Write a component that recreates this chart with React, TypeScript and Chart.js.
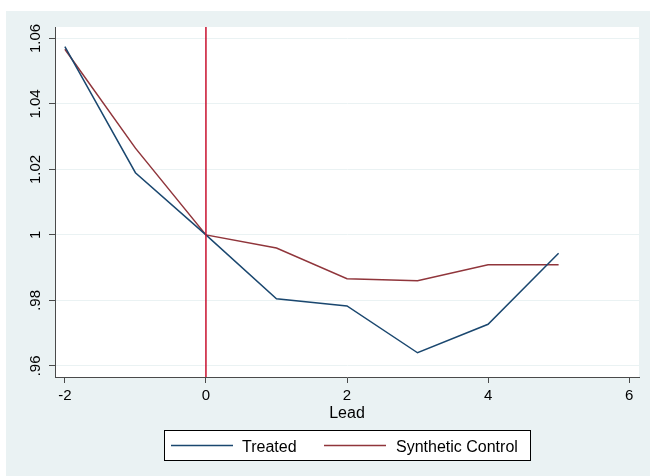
import React, { useEffect, useRef } from "react";
import { Chart, registerables } from "chart.js";

Chart.register(...registerables);

const leads = [-2, -1, 0, 1, 2, 3, 4, 5];
const treated = [1.0575, 1.019, 1.0, 0.9805, 0.9783, 0.964, 0.9727, 0.9944];
const synthetic = [1.0567, 1.0265, 1.0, 0.996, 0.9866, 0.986, 0.9909, 0.9909];
const xTicks = [-2, 0, 2, 4, 6];
const yTicks = [0.96, 0.98, 1.0, 1.02, 1.04, 1.06];
const yTickLabels = [".96", ".98", "1", "1.02", "1.04", "1.06"];
const xLineAt = 0;
const legendLabels = ["Treated", "Synthetic Control"];
const xTitle = "Lead";

const X_MIN = -2.14;
const X_MAX = 6.14;
const Y_MIN = 0.9566;
const Y_MAX = 1.0635;

const C_TREATED = "#1a476f";
const C_SYNTH = "#90353b";
const C_XLINE = "#c8102e";
const BG = "#eaf2f3";
const AXIS = "#4a4a4a";
const FONT = "'Liberation Sans', Arial, sans-serif";

export default function App() {
  const ref = useRef<HTMLCanvasElement | null>(null);

  useEffect(() => {
    const canvas = ref.current;
    if (!canvas) return;

    const bgPlugin = {
      id: "bgPlugin",
      beforeDraw(chart: any) {
        const { ctx, chartArea } = chart;
        ctx.save();
        ctx.fillStyle = "#ffffff";
        ctx.fillRect(0, 0, chart.width, chart.height);
        ctx.fillStyle = BG;
        ctx.fillRect(6, 11, chart.width - 6, chart.height - 11);
        ctx.fillStyle = "#ffffff";
        ctx.fillRect(
          chartArea.left,
          chartArea.top,
          chartArea.right - chartArea.left,
          chartArea.bottom - chartArea.top
        );
        ctx.restore();
      },
      afterDraw(chart: any) {
        const { ctx, chartArea } = chart;
        ctx.save();
        // x title
        ctx.fillStyle = "#000";
        ctx.font = `16px ${FONT}`;
        ctx.textAlign = "center";
        ctx.textBaseline = "alphabetic";
        ctx.fillText(xTitle, (chartArea.left + chartArea.right) / 2, 418);

        // legend box
        const bx = 164.5, by = 430.5, bw = 366, bh = 30;
        ctx.fillStyle = "#ffffff";
        ctx.fillRect(bx, by, bw, bh);
        ctx.strokeStyle = "#000";
        ctx.lineWidth = 1;
        ctx.strokeRect(bx, by, bw, bh);

        const items = [
          { x1: 171, x2: 233, tx: 242, color: C_TREATED, label: legendLabels[0] },
          { x1: 324, x2: 386, tx: 396, color: C_SYNTH, label: legendLabels[1] },
        ];
        ctx.textAlign = "left";
        ctx.font = `16px ${FONT}`;
        for (const it of items) {
          ctx.strokeStyle = it.color;
          ctx.lineWidth = 1.5;
          ctx.beginPath();
          ctx.moveTo(it.x1, 445.5);
          ctx.lineTo(it.x2, 445.5);
          ctx.stroke();
          ctx.fillStyle = "#000";
          ctx.fillText(it.label, it.tx, 452);
        }
        ctx.restore();
      },
    };

    const chart = new Chart(canvas, {
      type: "line",
      data: {
        datasets: [
          {
            label: "xline",
            data: [
              { x: xLineAt, y: Y_MIN },
              { x: xLineAt, y: Y_MAX },
            ],
            borderColor: C_XLINE,
            borderWidth: 1.5,
            pointRadius: 0,
            tension: 0,
          },
          {
            label: legendLabels[0],
            data: leads.map((x, i) => ({ x, y: treated[i] })),
            borderColor: C_TREATED,
            borderWidth: 1.5,
            pointRadius: 0,
            tension: 0,
          },
          {
            label: legendLabels[1],
            data: leads.map((x, i) => ({ x, y: synthetic[i] })),
            borderColor: C_SYNTH,
            borderWidth: 1.5,
            pointRadius: 0,
            tension: 0,
          },
        ],
      },
      options: {
        responsive: false,
        animation: false,
        devicePixelRatio: 1,
        layout: { padding: { left: 0, right: 11, top: 27, bottom: 0 } },
        plugins: {
          legend: { display: false },
          tooltip: { enabled: false },
        },
        scales: {
          x: {
            type: "linear",
            min: X_MIN,
            max: X_MAX,
            afterBuildTicks: (scale: any) => {
              scale.ticks = xTicks.map((v) => ({ value: v }));
            },
            afterFit: (scale: any) => {
              scale.height = 99;
            },
            grid: {
              drawOnChartArea: false,
              drawTicks: true,
              tickLength: 6,
              tickColor: AXIS,
              color: AXIS,
            },
            border: { display: true, color: AXIS, width: 1 },
            ticks: {
              autoSkip: false,
              maxRotation: 0,
              minRotation: 0,
              padding: 4,
              color: "#000",
              font: { family: FONT, size: 15 },
              callback: (v: any) => String(v),
            },
          },
          y: {
            type: "linear",
            min: Y_MIN,
            max: Y_MAX,
            afterBuildTicks: (scale: any) => {
              scale.ticks = yTicks.map((v) => ({ value: v }));
            },
            afterFit: (scale: any) => {
              scale.width = 55;
            },
            grid: {
              drawOnChartArea: true,
              drawTicks: true,
              tickLength: 6,
              tickColor: AXIS,
              color: BG,
              lineWidth: 1,
            },
            border: { display: true, color: AXIS, width: 1 },
            ticks: {
              autoSkip: false,
              minRotation: 90,
              maxRotation: 90,
              crossAlign: "center",
              padding: -1,
              color: "#000",
              font: { family: FONT, size: 15 },
              callback: (v: any) => {
                const i = yTicks.findIndex((t) => Math.abs(t - Number(v)) < 1e-9);
                return i >= 0 ? yTickLabels[i] : "";
              },
            },
          },
        },
      },
      plugins: [bgPlugin],
    } as any);

    return () => chart.destroy();
  }, []);

  return (
    <div style={{ position: "absolute", left: 0, top: 0, width: 650, height: 476 }}>
      <canvas ref={ref} width={650} height={476} style={{ display: "block" }} />
    </div>
  );
}
